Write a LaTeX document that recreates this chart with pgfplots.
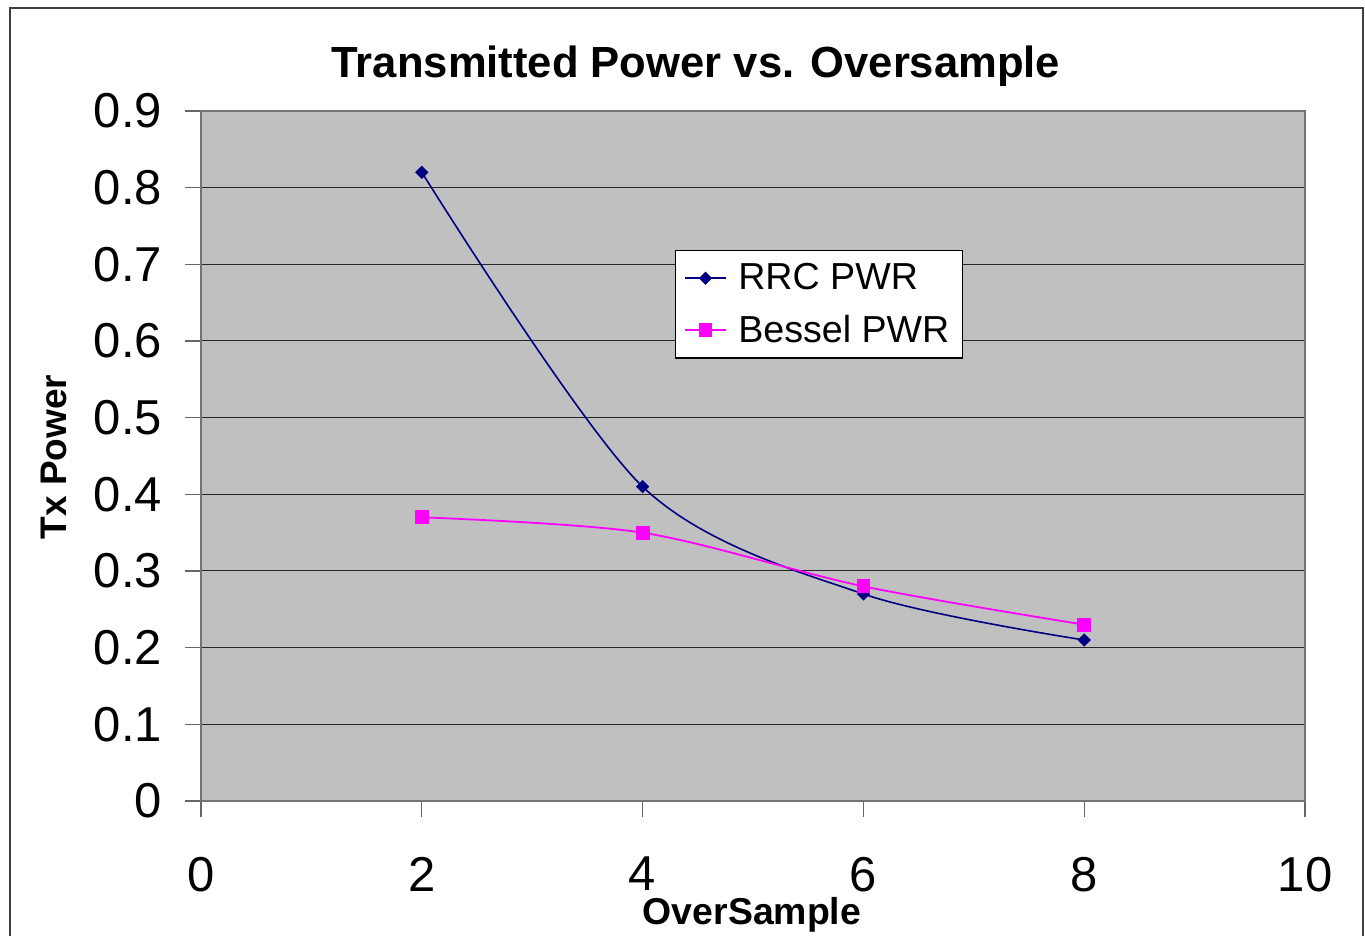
\documentclass[border=0pt]{standalone}
\usepackage{fontspec}
\setmainfont{Liberation Sans}
\usepackage{pgfplots}
\pgfplotsset{compat=1.18}
\definecolor{plotgray}{RGB}{192,192,192}
\definecolor{rrcblue}{RGB}{0,0,128}
\definecolor{besselpink}{RGB}{255,0,255}
\begin{document}
\begin{tikzpicture}[x=1pt,y=1pt]
\useasboundingbox (0,0) rectangle (682.5,468);
\draw[black!75, line width=0.8pt] (5,-10) -- (5,464) -- (681.5,464) -- (681.5,-10);
\begin{axis}[
  at={(100.5pt,67.5pt)}, anchor=south west,
  width=552pt, height=345pt, scale only axis,
  xmin=0, xmax=10, ymin=0, ymax=0.9,
  xtick={0,2,4,6,8,10}, xticklabels={0,2,4,6,8,10},
  ytick={0,0.1,0.2,0.3,0.4,0.5,0.6,0.7,0.8,0.9},
  yticklabels={0,0.1,0.2,0.3,0.4,0.5,0.6,0.7,0.8,0.9},
  xtick pos=bottom, ytick pos=left,
  tick align=outside, major tick length=8pt,
  tick style={black!60, line width=0.6pt},
  tick label style={font=\fontsize{24.5}{28}\selectfont},
  yticklabel style={anchor=east, xshift=-8pt},
  xticklabel style={anchor=north, yshift=-16.5pt},
  axis background/.style={fill=plotgray},
  axis line style={black!55, line width=0.6pt},
  ymajorgrids, grid style={black!85, line width=0.5pt},
  legend style={at={(axis cs:4.293,0.7187)}, anchor=north west,
    draw=black, line width=0.6pt, fill=white,
    font=\fontsize{18.8}{22}\selectfont,
    inner xsep=4.5pt, inner ysep=4.5pt, row sep=7pt,
    /tikz/every odd column/.append style={column sep=4pt}},
  legend cell align=left,
  legend image code/.code={\draw[mark repeat=2,mark phase=2,#1] plot coordinates {(0pt,0pt) (10pt,0pt) (20pt,0pt)};},
]
\addplot[color=rrcblue, line width=0.8pt, smooth, mark=square*, mark size=1.95pt,
  mark options={rotate=45, solid, fill=rrcblue}]
  coordinates {(2,0.82) (4,0.41) (6,0.27) (8,0.21)};
\addlegendentry{RRC PWR}
\addplot[color=besselpink, line width=0.9pt, smooth, mark=square*, mark size=3pt,
  mark options={solid, fill=besselpink}]
  coordinates {(2,0.37) (4,0.35) (6,0.28) (8,0.23)};
\addlegendentry{Bessel PWR}
\end{axis}
\node[font=\bfseries\fontsize{21.8}{26}\selectfont] at (348,435) {Transmitted Power vs. Oversample};
\node[font=\bfseries\fontsize{18.7}{22}\selectfont] at (376,10.5) {OverSample};
\node[font=\bfseries\fontsize{18.5}{22}\selectfont, rotate=90] at (27,239.5) {Tx Power};
\end{tikzpicture}
\end{document}
